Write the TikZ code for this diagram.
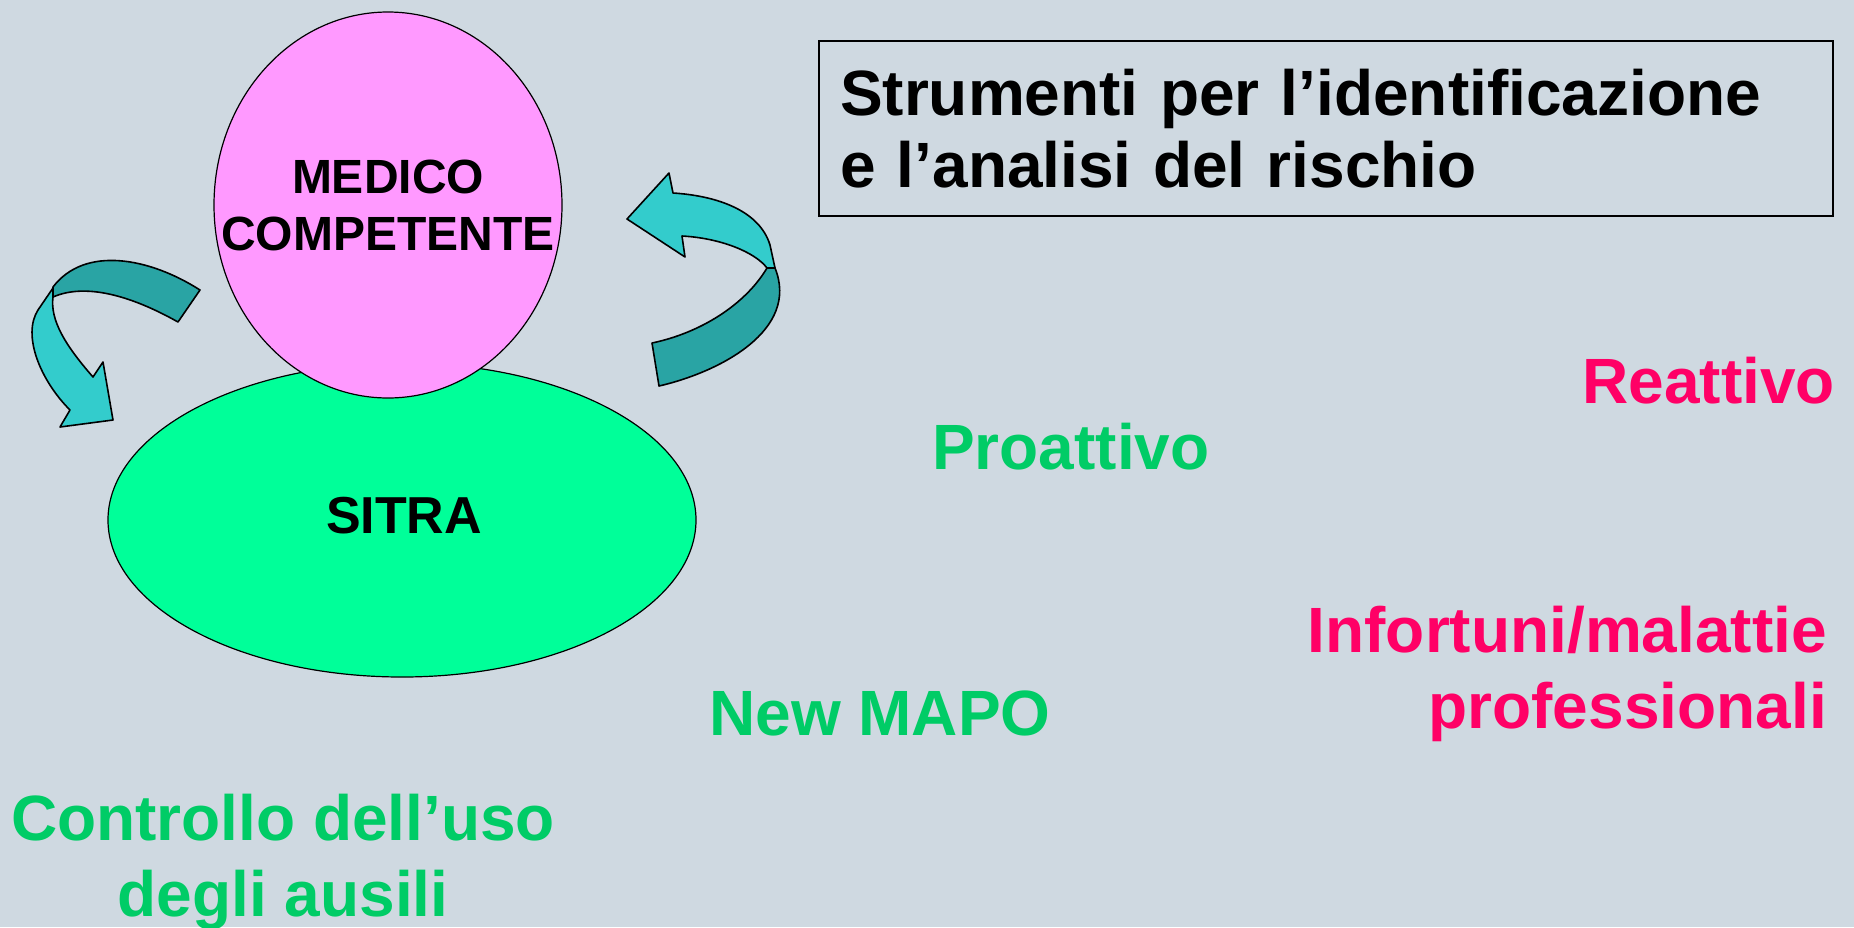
\documentclass[tikz,border=0pt]{standalone}
\usepackage{fontspec}
\setmainfont{Liberation Sans}
\usepackage{tikz}
\usetikzlibrary{shapes.geometric,positioning}
\definecolor{sfondo}{HTML}{CFD9E1}
\definecolor{rosa}{HTML}{FF99FF}
\definecolor{verde}{HTML}{00FF99}
\definecolor{verdetxt}{HTML}{00CC66}
\definecolor{rossotxt}{HTML}{FF0066}
\definecolor{frontale}{HTML}{33CCCC}
\definecolor{retro}{HTML}{29A4A4}
\tikzset{
  blob/.style={ellipse,draw=black,line width=1.2pt,inner sep=0pt},
  ribbon/.style={draw=black,line width=1.6pt,line join=round},
  voce/.style={font=\fontsize{64}{76}\selectfont\bfseries,inner sep=0pt},
  pro/.style={voce,text=verdetxt},
  rea/.style={voce,text=rossotxt}
}
\begin{document}
\begin{tikzpicture}[x=1pt,y=-1pt]
        \fill[sfondo] (0,0) rectangle (1854,927);
        \useasboundingbox (0,0) rectangle (1854,927);
        % ellissi
        \node[blob,fill=verde,minimum width=588pt,minimum height=314pt] (sitra) at (402,520) {};
        \node[anchor=base,font=\fontsize{52}{60}\selectfont\bfseries] (sitratxt) at (404,533) {SITRA};
        \node[blob,fill=rosa,minimum width=348pt,minimum height=386pt] (medico) at (388,205) {};
        \node[align=center,font=\fontsize{48}{57}\selectfont\bfseries] (medicotxt) at (388,205)
              {MEDICO\\COMPETENTE};
        % freccia sinistra
        \filldraw[ribbon,fill=retro] (200,290) .. controls (150,258) and (85,245) .. (53,287)
              -- (53,297) .. controls (85,283) and (130,295) .. (178,322) -- cycle;
        \filldraw[ribbon,fill=frontale] (53,288) -- (38,310) .. controls (22,335) and (40,380) .. (70,410)
              -- (60,427) -- (113,420) -- (103,362) -- (93,377)
              .. controls (65,345) and (50,320) .. (53,297) -- cycle;
        % freccia destra
        \filldraw[ribbon,fill=retro] (652,343) -- (659,386) .. controls (720,372) and (800,330) .. (775,268)
              -- (767,268) .. controls (745,305) and (700,333) .. (652,343) -- cycle;
        \filldraw[ribbon,fill=frontale] (775,268) -- (770,245) .. controls (760,212) and (720,196) .. (673,193)
              -- (669,173) -- (627,219) -- (685,257) -- (682,236)
              .. controls (720,238) and (755,252) .. (767,268) -- cycle;
        % titolo
        \node[draw=black,line width=1.2pt,minimum width=1014pt,minimum height=175pt,
              text width=972pt,align=left,inner sep=0pt,
              font=\fontsize{64}{72}\selectfont\bfseries] (titolo) at (1326,128.5)
              {Strumenti per l'identificazione\\e l'analisi del rischio};
        % voci
        \node[pro,anchor=base west] (proattivo) at (932,469) {Proattivo};
        \node[rea,anchor=base east] (reattivo) at (1835,403) {Reattivo};
        \node[pro,anchor=base west] (mapo) at (709,735) {New MAPO};
        \node[rea,align=right,anchor=north east] (infortuni) at (1827,606) {Infortuni/malattie\\professionali};
        \node[pro,align=center,anchor=north] (ausili) at (283,794) {Controllo dell'uso\\degli ausili};
\end{tikzpicture}
\end{document}
